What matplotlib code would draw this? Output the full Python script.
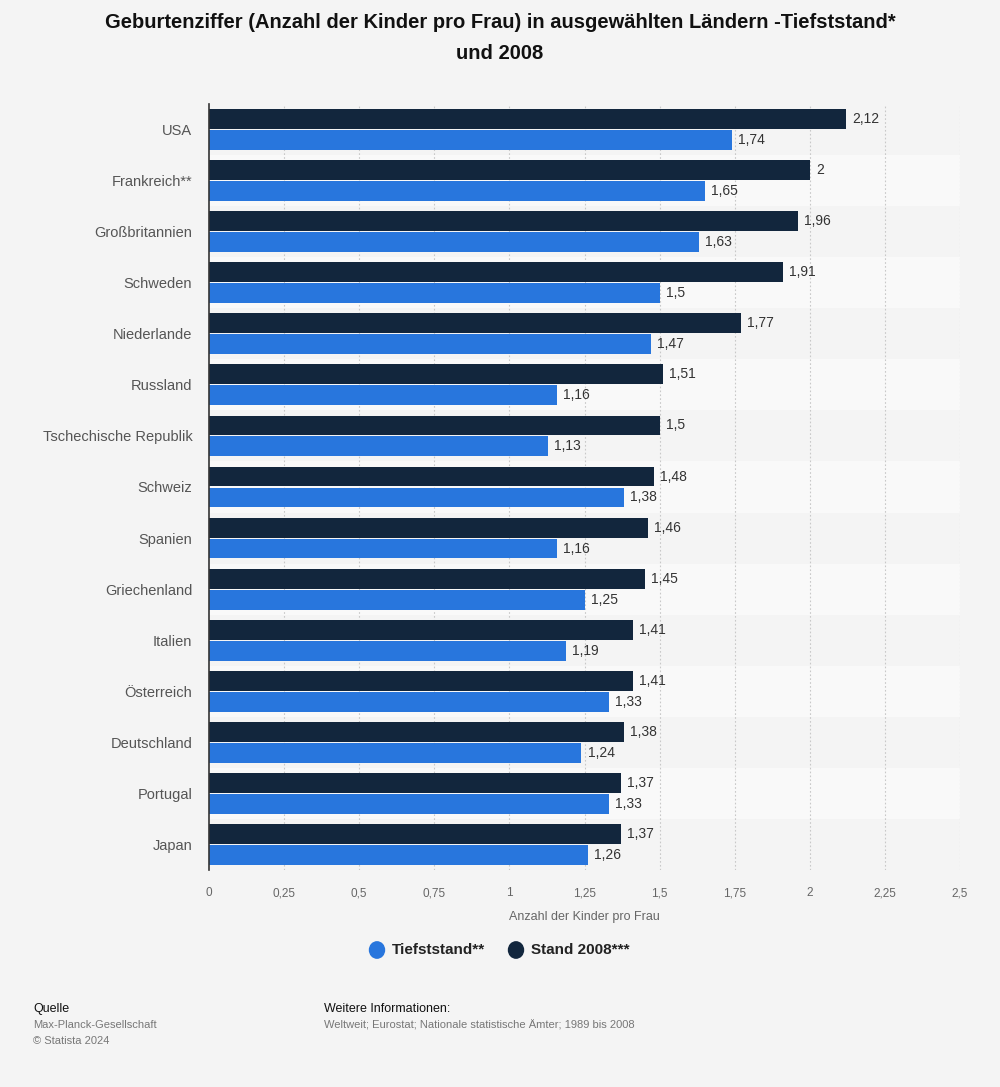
import matplotlib
matplotlib.use("Agg")
import matplotlib.pyplot as plt
import matplotlib.transforms as mtransforms
import numpy as np

plt.rcParams['font.family'] = ['Liberation Sans', 'DejaVu Sans']

# ---------------- Daten ----------------
laender = ["USA", "Frankreich**", "Großbritannien", "Schweden", "Niederlande", "Russland",
           "Tschechische Republik", "Schweiz", "Spanien", "Griechenland", "Italien",
           "Österreich", "Deutschland", "Portugal", "Japan"]
stand_2008 = [2.12, 2.00, 1.96, 1.91, 1.77, 1.51, 1.50, 1.48, 1.46, 1.45, 1.41, 1.41, 1.38, 1.37, 1.37]
tiefststand = [1.74, 1.65, 1.63, 1.50, 1.47, 1.16, 1.13, 1.38, 1.16, 1.25, 1.19, 1.33, 1.24, 1.33, 1.26]
x_ticks = [0, 0.25, 0.5, 0.75, 1, 1.25, 1.5, 1.75, 2, 2.25, 2.5]

bg = "#f4f4f4"
c_dark = "#12263d"
c_blue = "#2876dd"

def de(v):
    s = f"{v:.2f}".rstrip("0").rstrip(".")
    return s.replace(".", ",")

fig = plt.figure(figsize=(10, 10.87), dpi=100, facecolor=bg)
ax = fig.add_axes([0.209, 1 - 870 / 1087, 0.751, (870 - 104) / 1087])
ax.set_facecolor(bg)

n = len(laender)
y = np.arange(n)
h = 0.39

# abwechselnde Zeilen-Hintergruende
for i in range(n):
    if i % 2 == 1:
        ax.axhspan(i - 0.5, i + 0.5, color="#f9f9f9", zorder=0, lw=0)

ax.barh(y - h / 2 - 0.01, stand_2008, height=h, color=c_dark, zorder=3)
ax.barh(y + h / 2 + 0.01, tiefststand, height=h, color=c_blue, zorder=3)

for i in range(n):
    ax.text(stand_2008[i] + 0.02, y[i] - h / 2 - 0.01, de(stand_2008[i]), va="center",
            ha="left", fontsize=10, color="#333333", zorder=4)
    ax.text(tiefststand[i] + 0.02, y[i] + h / 2 + 0.01, de(tiefststand[i]), va="center",
            ha="left", fontsize=10, color="#333333", zorder=4)

ax.set_ylim(n - 0.5, -0.5)
ax.set_xlim(0, 2.5)
ax.set_yticks(y)
ax.set_yticklabels(laender, fontsize=10.5, color="#555555")
ax.set_xticks(x_ticks)
ax.set_xticklabels([])
ax.tick_params(axis="both", length=0)
ax.tick_params(axis="y", pad=12)

# x-Beschriftungen auf gemeinsamer Grundlinie
trans = mtransforms.blended_transform_factory(ax.transData, ax.transAxes)
for t in x_ticks:
    ax.text(t, -(896 - 870) / 766, de(t), transform=trans, ha="center", va="baseline",
            fontsize=8.5, color="#666666")

for t in x_ticks[1:]:
    ax.axvline(t, color="#c8c8c8", lw=0.8, ls=(0, (1.5, 2)), zorder=1)
for s in ["top", "right", "bottom"]:
    ax.spines[s].set_visible(False)
ax.spines["left"].set_color("#333333")
ax.spines["left"].set_linewidth(1.2)
ax.spines["left"].set_zorder(5)

fig.text(0.5846, 1 - 917 / 1087, "Anzahl der Kinder pro Frau", fontsize=9, color="#666666",
         ha="center", va="center")

fig.text(0.5, 1 - 38 / 1087, "Geburtenziffer (Anzahl der Kinder pro Frau) in ausgewählten Ländern -Tiefststand*\nund 2008",
         ha="center", va="center", fontsize=14.5, fontweight="bold", color="#111111", linespacing=1.75)

# Legende
ly = 1 - 950 / 1087
fig.patches.append(plt.Circle((377 / 1000, ly), 0.0075, transform=fig.transFigure,
                              color=c_blue, figure=fig))
fig.text(392 / 1000, ly, "Tiefststand**", fontsize=11, fontweight="bold", color="#222222", va="center")
fig.patches.append(plt.Circle((516 / 1000, ly), 0.0075, transform=fig.transFigure,
                              color=c_dark, figure=fig))
fig.text(531 / 1000, ly, "Stand 2008***", fontsize=11, fontweight="bold", color="#222222", va="center")

# Fusszeile
fig.text(33 / 1000, 1 - 1009 / 1087, "Quelle", fontsize=9, color="#111111", va="center")
fig.text(33 / 1000, 1 - 1025 / 1087, "Max-Planck-Gesellschaft", fontsize=8, color="#777777", va="center")
fig.text(33 / 1000, 1 - 1041 / 1087, "© Statista 2024", fontsize=8, color="#777777", va="center")
fig.text(324 / 1000, 1 - 1009 / 1087, "Weitere Informationen:", fontsize=9, color="#111111", va="center")
fig.text(324 / 1000, 1 - 1025 / 1087, "Weltweit; Eurostat; Nationale statistische Ämter; 1989 bis 2008",
         fontsize=8, color="#777777", va="center")

fig.savefig("out.png", dpi=100, facecolor=bg)
